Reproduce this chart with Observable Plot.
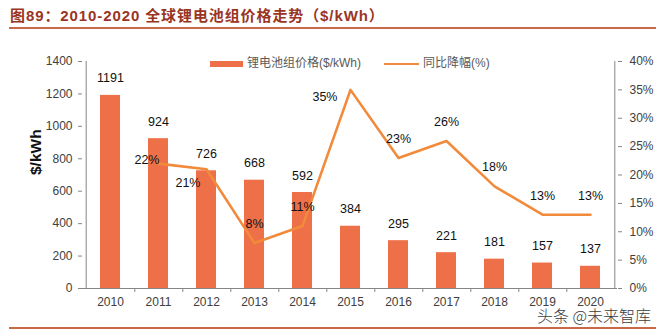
<!DOCTYPE html>
<html>
<head>
<meta charset="utf-8">
<script src="https://cdn.jsdelivr.net/npm/d3@7"></script>
<script src="https://cdn.jsdelivr.net/npm/@observablehq/plot@0.6"></script>
<style>
  body { margin: 0; background: #fff; }
  #wrap { position: relative; width: 662px; height: 333px; background: #fff; overflow: hidden;
          font-family: "Liberation Sans", Arial, "Noto Sans CJK SC", sans-serif; }
  #title { position: absolute; left: 10px; top: 4px; font-size: 15px; font-weight: bold; color: #9A3524;
           font-family: "Liberation Sans", "Noto Sans CJK SC", sans-serif; white-space: nowrap; letter-spacing: 0.9px; }
  .hline { position: absolute; left: 9px; width: 647px; height: 2px; background: #C8694A; }
  #legend { position: absolute; top: 53px; left: 210px; font-size: 12px; color: #595959; white-space: nowrap;
            font-family: "Liberation Sans", "Noto Sans CJK SC", sans-serif; }
  #legend span.item { position: absolute; top: 0; white-space: nowrap; }
  #legend .sw { display: inline-block; vertical-align: middle; }
  #chart { position: absolute; left: 0; top: 0; }
  #wm { position: absolute; left: 537px; top: 303px; font-size: 16px; color: #3c3c3c; white-space: nowrap;
        font-family: "Noto Sans CJK SC", sans-serif; font-weight: 300;
        text-shadow: 0 0 2px #fff, 0 0 2px #fff; }
</style>
</head>
<body>
<div id="wrap">
  <div id="title">图89：2010-2020 全球锂电池组价格走势（$/kWh）</div>
  <div class="hline" style="top:27px"></div>
  <div id="chart"></div>
  <div id="legend"></div>
  <div class="hline" style="top:327px"></div>
  <div id="wm">头条 @未来智库</div>
</div>
<script>
// ---- data ----
const years = ["2010","2011","2012","2013","2014","2015","2016","2017","2018","2019","2020"];
const prices = [1191, 924, 726, 668, 592, 384, 295, 221, 181, 157, 137];
const pctDecline = [null, 22, 21, 8, 11, 35, 23, 26, 18, 13, 13];
const priceTicks = [0, 200, 400, 600, 800, 1000, 1200, 1400];
const pctTicks = [0, 5, 10, 15, 20, 25, 30, 35, 40];
const seriesNames = ["锂电池组价格($/kWh)", "同比降幅(%)"];

// ---- styles ----
const barColor = "#EE7049";
const lineColor = "#F28A3B";
const axisColor = "#868686";
const textColor = "#404040";

const W = 662, H = 333;
const mL = 82, mR = 45, mT = 61, mB = 45;
const halfStep = (W - mL - mR) / years.length / 2;

const priceMax = priceTicks[priceTicks.length - 1];
const pctMax = pctTicks[pctTicks.length - 1];
const toY = p => p / pctMax * priceMax;

const rows = years.map((year, i) => ({year, price: prices[i], pct: pctDecline[i]}));
const pctRows = rows.filter(d => d.pct != null);

// label placement for the percent labels (style, not data)
const pctPlace = {
  "2011": {textAnchor: "end", dx: 1, dy: -4},
  "2012": {textAnchor: "end", dx: -6, dy: 14},
  "2015": {textAnchor: "end", dx: -13, dy: 7}
};
const aboveRows = pctRows.filter(d => !pctPlace[d.year]);

const pctLabelMarks = Object.entries(pctPlace).map(([yr, opt]) =>
  Plot.text(pctRows.filter(d => d.year === yr), {
    x: "year", y: d => toY(d.pct), text: d => d.pct + "%",
    fontSize: 12.5, fill: "#111", ...opt
  })
);

const chart = Plot.plot({
  width: W, height: H,
  marginLeft: mL, marginRight: mR, marginTop: mT, marginBottom: mB,
  style: {fontFamily: "'Liberation Sans', Arial, sans-serif", fontSize: "12px", background: "transparent"},
  x: {type: "band", domain: years, paddingInner: 0.59, paddingOuter: 0.295},
  y: {domain: [0, priceMax]},
  marks: [
    Plot.barY(rows, {x: "year", y: "price", fill: barColor}),
    // axis lines
    Plot.ruleY([0], {stroke: axisColor, strokeWidth: 1}),
    Plot.ruleX([years[0]], {dx: -halfStep, stroke: axisColor}),
    Plot.ruleX([years[years.length - 1]], {dx: halfStep, stroke: axisColor}),
    // category boundary ticks
    Plot.ruleX(years.slice(0, -1), {dx: halfStep, y1: 0, y2: -priceMax * 4 / (H - mT - mB), stroke: axisColor}),
    Plot.axisY(priceTicks, {anchor: "left", tickSize: 4, tickPadding: 6, stroke: axisColor, fill: textColor,
      tickFormat: d => String(d), label: null, fontSize: 12}),
    Plot.axisY(pctTicks.map(toY), {anchor: "right", tickSize: 4, tickPadding: 8, stroke: axisColor, fill: textColor,
      tickFormat: d => Math.round(d / priceMax * pctMax) + "%", label: null, fontSize: 12}),
    Plot.axisX({tickSize: 0, tickPadding: 9, fill: textColor, label: null, fontSize: 12}),
    Plot.text(["$/kWh"], {frameAnchor: "left", dx: -46, rotate: -90, fontWeight: "bold", fontSize: 15.5, fill: "#111"}),
    Plot.line(pctRows, {x: "year", y: d => toY(d.pct), stroke: lineColor, strokeWidth: 2.6}),
    Plot.text(rows, {x: "year", y: "price", text: d => String(d.price), dy: -17, fontSize: 12.5, fill: "#111"}),
    Plot.text(aboveRows, {x: "year", y: d => toY(d.pct), text: d => d.pct + "%", dy: -19, fontSize: 12.5, fill: "#111"}),
    ...pctLabelMarks
  ]
});
document.getElementById("chart").appendChild(chart);

// legend
const lg = document.getElementById("legend");
lg.innerHTML =
  `<span class="item" style="left:0"><span class="sw" style="width:33px;height:6px;background:${barColor};margin-right:4px"></span>${seriesNames[0]}</span>` +
  `<span class="item" style="left:174px"><span class="sw" style="width:35px;height:2.5px;background:${lineColor};margin-right:4px"></span>${seriesNames[1]}</span>`;
</script>
</body>
</html>
